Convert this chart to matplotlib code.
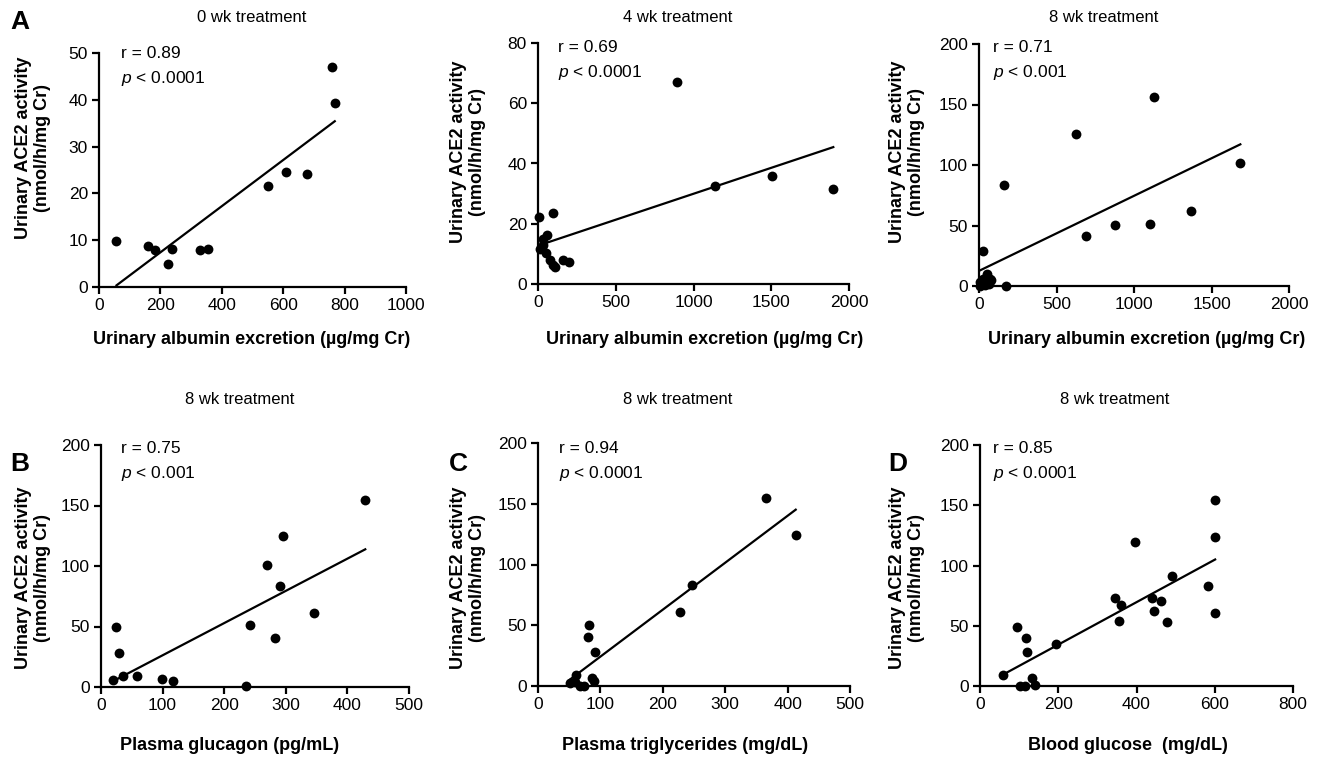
import matplotlib
matplotlib.use("Agg")
import matplotlib.pyplot as plt
import numpy as np

plt.rcParams['font.family'] = ['Liberation Sans', 'DejaVu Sans']
plt.rcParams['mathtext.fontset'] = 'custom'
plt.rcParams['mathtext.rm'] = 'Liberation Sans'
plt.rcParams['mathtext.it'] = 'Liberation Sans:italic'

# ---- data ----
# A: urinary albumin excretion vs urinary ACE2 activity
alb_0wk = [57, 158, 182, 237, 225, 329, 355, 549, 608, 676, 759, 768]
ace2_0wk = [9.8, 8.7, 7.9, 8.2, 5.0, 7.9, 8.2, 21.6, 24.5, 24.1, 47.1, 39.3]

alb_4wk = [6, 96, 58, 32, 15, 30, 54, 75, 96, 107, 161, 199, 897, 1137, 1502, 1899]
ace2_4wk = [22.2, 23.5, 16.3, 14.9, 11.5, 12.8, 10.2, 8.0, 6.3, 5.5, 8.0, 7.4,
            67.0, 32.4, 35.8, 31.5]

alb_8wk = [4, 26, 54, 69, 80, 37, 4, 63, 28, 172, 159, 628, 692, 880, 1105,
           1129, 1370, 1686]
ace2_8wk = [3.3, 6.1, 9.7, 6.1, 4.7, 0.6, 0, 1.4, 28.8, 0, 83.8, 125.4, 41.1,
            50.2, 51.6, 156.3, 61.8, 101.7]

# B: plasma glucagon
glucagon = [19, 24, 30, 35, 58, 99, 117, 235, 242, 269, 282, 290, 295, 345, 429]
ace2_glucagon = [5.5, 49.7, 28.4, 9.1, 9.1, 6.9, 5.0, 0.6, 51.3, 101, 40.6,
                 83.3, 124.7, 61.2, 154.5]

# C: plasma triglycerides
trig = [51, 59, 61, 67, 74, 80, 82, 86, 90, 92, 227, 247, 366, 413]
ace2_trig = [2.7, 3.5, 9.1, 0, 0, 40.6, 50.3, 6.3, 4.1, 28.3, 61.3, 83.2,
             154.7, 124.5]

# D: blood glucose
glucose = [60, 94, 102, 115, 117, 119, 132, 141, 194, 345, 356, 360, 397, 439,
           445, 462, 477, 492, 583, 601, 601, 601]
ace2_glucose = [9.1, 49.2, 0, 0, 40.1, 27.9, 6.4, 0.8, 34.6, 72.8, 54.2, 67.2,
                119.2, 72.8, 62.2, 70.8, 53.4, 91.3, 83.0, 154.4, 123.9, 60.9]

W, H = 1329, 758
fig = plt.figure(figsize=(W / 100, H / 100), dpi=100)


def box(x0, y0, x1, y1):
    return [x0 / W, 1 - y1 / H, (x1 - x0) / W, (y1 - y0) / H]


def fig_text(x, y, s, **kw):
    fig.text(x / W, 1 - y / H, s, **kw)


ylab = "Urinary ACE2 activity\n(nmol/h/mg Cr)"
alb_lab = "Urinary albumin excretion (\u00b5g/mg Cr)"

panels = [
    dict(x=alb_0wk, y=ace2_0wk, pos=(99, 53, 406, 287), xmax=1000, xstep=200,
         ymax=50, ystep=10, title="0 wk treatment", r="0.89", p="0.0001",
         xlabel=alb_lab, tx=252, ty=18, lx=252, ly=340, yl=(33, 148),
         ann=(121, 46)),
    dict(x=alb_4wk, y=ace2_4wk, pos=(538, 43, 849, 284), xmax=2000, xstep=500,
         ymax=80, ystep=20, title="4 wk treatment", r="0.69", p="0.0001",
         xlabel=alb_lab, tx=678, ty=18, lx=705, ly=340, yl=(468, 152),
         ann=(558, 40)),
    dict(x=alb_8wk, y=ace2_8wk, pos=(979, 44, 1289, 286), xmax=2000, xstep=500,
         ymax=200, ystep=50, title="8 wk treatment", r="0.71", p="0.001",
         xlabel=alb_lab, tx=1104, ty=18, lx=1147, ly=340, yl=(907, 152),
         ann=(993, 40)),
    dict(x=glucagon, y=ace2_glucagon, pos=(101, 445, 409, 687), xmax=500,
         xstep=100, ymax=200, ystep=50, title="8 wk treatment", r="0.75",
         p="0.001", xlabel="Plasma glucagon (pg/mL)", tx=240, ty=400, lx=230,
         ly=745, yl=(33, 578), ann=(121, 441)),
    dict(x=trig, y=ace2_trig, pos=(538, 443, 850, 686), xmax=500, xstep=100,
         ymax=200, ystep=50, title="8 wk treatment", r="0.94", p="0.0001",
         xlabel="Plasma triglycerides (mg/dL)", tx=678, ty=400, lx=685,
         ly=745, yl=(468, 578), ann=(559, 441)),
    dict(x=glucose, y=ace2_glucose, pos=(980, 445, 1293, 686), xmax=800,
         xstep=200, ymax=200, ystep=50, title="8 wk treatment", r="0.85",
         p="0.0001", xlabel="Blood glucose  (mg/dL)", tx=1115, ty=400,
         lx=1128, ly=745, yl=(907, 578), ann=(993, 441)),
]

for pnl in panels:
    ax = fig.add_axes(box(*pnl["pos"]))
    x = np.array(pnl["x"], dtype=float)
    y = np.array(pnl["y"], dtype=float)
    ax.scatter(x, y, s=50, color="black", zorder=3, clip_on=False,
               linewidths=0)
    # least-squares regression line over the data range
    slope, icpt = np.polyfit(x, y, 1)
    xs = np.array([x.min(), x.max()])
    ax.plot(xs, slope * xs + icpt, color="black", lw=1.6, zorder=2)

    ax.set_xlim(0, pnl["xmax"])
    ax.set_ylim(0, pnl["ymax"])
    ax.set_xticks(np.arange(0, pnl["xmax"] + 1, pnl["xstep"]))
    ax.set_yticks(np.arange(0, pnl["ymax"] + 1, pnl["ystep"]))
    for side in ("top", "right"):
        ax.spines[side].set_visible(False)
    for side in ("left", "bottom"):
        ax.spines[side].set_linewidth(1.6)
    ax.tick_params(direction="out", length=5, width=1.6, labelsize=12.5,
                   pad=3)

    fig_text(pnl["tx"], pnl["ty"], pnl["title"], ha="center", va="center",
             fontsize=12)
    fig_text(pnl["lx"], pnl["ly"], pnl["xlabel"], ha="center", va="center",
             fontsize=13, fontweight="bold")
    fig_text(pnl["yl"][0], pnl["yl"][1], ylab, ha="center", va="center",
             rotation=90, fontsize=13, fontweight="bold", linespacing=1.1)
    ax_x, ax_y = pnl["ann"]
    fig_text(ax_x, ax_y, "r = " + pnl["r"], ha="left", va="top",
             fontsize=12.5)
    fig_text(ax_x, ax_y + 23, "$p$ < " + pnl["p"], ha="left", va="top",
             fontsize=12.5)

for letter, lx, ly in [("A", 20, 22), ("B", 20, 464), ("C", 458, 464),
                       ("D", 898, 464)]:
    fig_text(lx, ly, letter, ha="center", va="center", fontsize=19,
             fontweight="bold")

fig.savefig("out.png", dpi=100)
